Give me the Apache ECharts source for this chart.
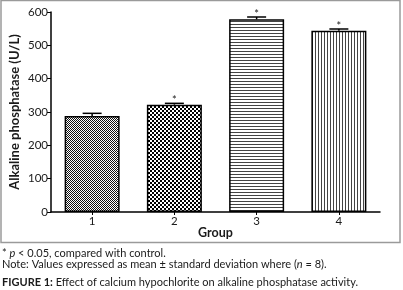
<!DOCTYPE html>
<html>
<head>
<meta charset="utf-8">
<script src="https://cdn.jsdelivr.net/npm/echarts@6/dist/echarts.min.js"></script>
<style>
html,body{margin:0;padding:0;background:#fff;}
#c{width:403px;height:290px;}
</style>
</head>
<body>
<div id="c"></div>
<script>
// ---- data ----
const categories = ['1', '2', '3', '4'];
const means = [288, 322, 578, 544];
const sds = [8, 4, 7, 5];
const sigMarks = ['', '*', '*', '*'];
const yMin = 0, yMax = 600, yStep = 100;
const xTitle = 'Group';
const yTitle = 'Alkaline phosphatase (U/L)';
const captionBold = 'FIGURE 1:';
const captionText = ' Effect of calcium hypochlorite on alkaline phosphatase activity.';

// ---- patterns ----
function makePattern(kind) {
  const c = document.createElement('canvas');
  const ctx = c.getContext('2d');
  if (kind === 'fineChecker') {
    c.width = 2; c.height = 2;
    ctx.fillStyle = '#fff'; ctx.fillRect(0, 0, 2, 2);
    ctx.fillStyle = '#111';
    ctx.fillRect(0, 0, 1, 1); ctx.fillRect(1, 1, 1, 1);
  } else if (kind === 'checker') {
    c.width = 4; c.height = 4;
    ctx.fillStyle = '#fff'; ctx.fillRect(0, 0, 4, 4);
    ctx.fillStyle = '#000';
    ctx.fillRect(0, 0, 2, 2); ctx.fillRect(2, 2, 2, 2);
  } else if (kind === 'hlines') {
    c.width = 3; c.height = 3;
    ctx.fillStyle = '#fff'; ctx.fillRect(0, 0, 3, 3);
    ctx.fillStyle = '#444'; ctx.fillRect(0, 0, 3, 1);
  } else {
    c.width = 3; c.height = 3;
    ctx.fillStyle = '#fff'; ctx.fillRect(0, 0, 3, 3);
    ctx.fillStyle = '#444'; ctx.fillRect(0, 0, 1, 3);
  }
  return { image: c, repeat: 'repeat' };
}
const patterns = [makePattern('fineChecker'), makePattern('checker'), makePattern('hlines'), makePattern('vlines')];

const FONT = 'Lato';
const TXT = '#1a1a1a';
const chart = echarts.init(document.getElementById('c'), null, { renderer: 'canvas' });

const barData = means.map((v, i) => ({
  value: v,
  itemStyle: { color: patterns[i], borderColor: '#000', borderWidth: 1.5 }
}));
const errData = means.map((v, i) => [i, v, v + sds[i]]);

chart.setOption({
  animation: false,
  backgroundColor: '#fff',
  grid: { left: 47, right: 23, top: 12, bottom: 78, containLabel: false },
  xAxis: {
    type: 'category',
    data: categories,
    name: xTitle,
    nameLocation: 'middle',
    nameGap: 14,
    nameMoveOverlap: false,
    nameTextStyle: { fontFamily: FONT, fontWeight: 'bold', fontSize: 12.5, color: TXT },
    axisLine: { lineStyle: { color: '#000', width: 1.5 } },
    axisTick: { show: true, alignWithLabel: true, length: 3, lineStyle: { color: '#000', width: 1 } },
    axisLabel: { fontFamily: FONT, fontSize: 11.5, color: TXT, margin: 3 },
    splitLine: { show: false }
  },
  yAxis: {
    type: 'value',
    min: yMin, max: yMax, interval: yStep,
    name: yTitle,
    nameLocation: 'middle',
    nameGap: 30,
    nameMoveOverlap: false,
    nameTextStyle: { fontFamily: FONT, fontWeight: 'bold', fontSize: 13, color: TXT },
    axisLine: { show: true, lineStyle: { color: '#000', width: 1.5 } },
    axisTick: { show: true, length: 4, lineStyle: { color: '#000', width: 1 } },
    axisLabel: { fontFamily: FONT, fontSize: 11.5, color: TXT, margin: 3 },
    splitLine: { show: false }
  },
  series: [
    {
      type: 'bar',
      data: barData,
      barWidth: 55,
      z: 2
    },
    {
      type: 'custom',
      data: errData,
      z: 3,
      renderItem: function (params, api) {
        const idx = api.value(0);
        const base = api.coord([idx, api.value(1)]);
        const top = api.coord([idx, api.value(2)]);
        const half = 9.5;
        const children = [
          { type: 'line', shape: { x1: base[0], y1: base[1], x2: top[0], y2: top[1] }, style: { stroke: '#000', lineWidth: 1.5 } },
          { type: 'line', shape: { x1: top[0] - half, y1: top[1], x2: top[0] + half, y2: top[1] }, style: { stroke: '#000', lineWidth: 1.5 } }
        ];
        const mark = sigMarks[params.dataIndex];
        if (mark) {
          children.push({
            type: 'text',
            style: { text: mark, x: top[0], y: top[1] - 3, align: 'center', verticalAlign: 'middle', fontFamily: FONT, fontSize: 11, fill: TXT }
          });
        }
        return { type: 'group', children: children };
      }
    }
  ],
  graphic: [
    { type: 'rect', shape: { x: 1, y: 0.5, width: 399, height: 242 }, style: { fill: 'none', stroke: '#9a9a9a', lineWidth: 1.5 }, z: -1, silent: true },
    {
      type: 'text', left: 2, top: 248,
      style: {
        text: '{n|* }{i|p}{n| < 0.05, compared with control.}',
        rich: {
          n: { fontFamily: FONT, fontSize: 11, fill: TXT },
          i: { fontFamily: FONT, fontSize: 11, fontStyle: 'italic', fill: TXT }
        }
      }
    },
    {
      type: 'text', left: 2, top: 259,
      style: {
        text: '{n|Note: Values expressed as mean \u00B1 standard deviation where (}{i|n}{n| = 8).}',
        rich: {
          n: { fontFamily: FONT, fontSize: 11, fill: TXT },
          i: { fontFamily: FONT, fontSize: 11, fontStyle: 'italic', fill: TXT }
        }
      }
    },
    {
      type: 'text', left: 2, top: 277,
      style: {
        text: '{b|' + captionBold + '}{n|' + captionText + '}',
        rich: {
          b: { fontFamily: FONT, fontSize: 11, fontWeight: 'bold', fill: TXT },
          n: { fontFamily: FONT, fontSize: 11, fill: TXT }
        }
      }
    }
  ]
});
</script>
</body>
</html>
